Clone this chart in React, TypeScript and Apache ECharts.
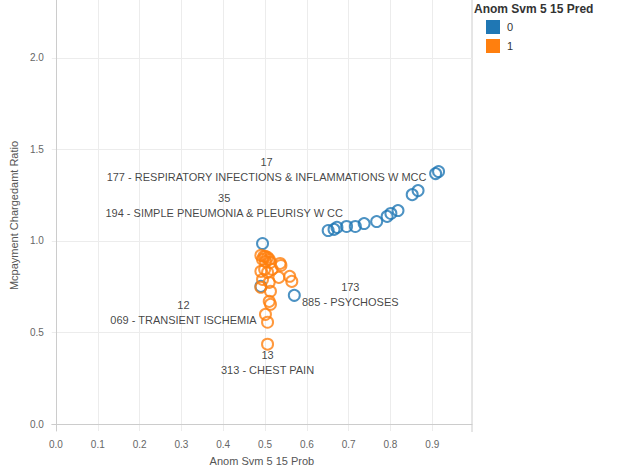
import { useRef, useEffect } from 'react';
import * as echarts from 'echarts';

const blueX = [0.915, 0.908, 0.866, 0.852, 0.818, 0.801, 0.792, 0.767, 0.737, 0.716, 0.695, 0.672, 0.665, 0.651, 0.494, 0.49, 0.57];
const blueY = [1.379, 1.368, 1.275, 1.253, 1.166, 1.15, 1.134, 1.106, 1.095, 1.079, 1.079, 1.074, 1.063, 1.057, 0.986, 0.752, 0.703];
const orangeX = [0.49, 0.497, 0.501, 0.506, 0.51, 0.494, 0.501, 0.513, 0.536, 0.538, 0.49, 0.499, 0.506, 0.517, 0.533, 0.559, 0.564, 0.494, 0.51, 0.49, 0.513, 0.51, 0.513, 0.501, 0.506, 0.506];
const orangeY = [0.921, 0.916, 0.916, 0.91, 0.899, 0.899, 0.888, 0.883, 0.877, 0.866, 0.834, 0.845, 0.828, 0.845, 0.801, 0.807, 0.779, 0.79, 0.774, 0.747, 0.725, 0.67, 0.654, 0.599, 0.556, 0.436];
const xTicks = [0, 0.1, 0.2, 0.3, 0.4, 0.5, 0.6, 0.7, 0.8, 0.9];
const yTicks = [0, 0.5, 1.0, 1.5, 2.0];

// annotations: [series, point index, count, drg, offset]
const notes: [string, number, string, string, number[]][] = [
  ['0', 0, '17', '177 - RESPIRATORY INFECTIONS & INFLAMMATIONS W MCC', [-172, -2]],
  ['0', 3, '35', '194 - SIMPLE PNEUMONIA & PLEURISY W CC', [-188, 11]],
  ['0', 16, '173', '885 - PSYCHOSES', [56, -1]],
  ['1', 23, '12', '069 - TRANSIENT ISCHEMIA', [-82, -2]],
  ['1', 25, '13', '313 - CHEST PAIN', [0, 18]],
];

const BLUE = '#1f77b4';
const ORANGE = '#ff7f0e';
const FONT = 'Liberation Sans, Arial, sans-serif';

function build(name: string, xs: number[], ys: number[]) {
  return xs.map((x, i) => {
    const n = notes.find((a) => a[0] === name && a[1] === i);
    const item: any = { value: [x, ys[i]] };
    if (n) {
      item.label = {
        show: true, position: 'inside', offset: n[4], align: 'center',
        formatter: n[2] + '\n' + n[3], color: '#111', fontSize: 11,
        fontFamily: FONT, lineHeight: 15,
      };
    }
    return item;
  });
}

export default function App() {
  const ref = useRef<HTMLDivElement>(null);
  useEffect(() => {
    if (!ref.current) return;
    const chart = echarts.init(ref.current, undefined, { renderer: 'svg' });
    const sym = (c: string) => ({
      type: 'scatter', symbol: 'circle', symbolSize: 11,
      itemStyle: { color: 'rgba(255,255,255,0)', borderColor: c, borderWidth: 2 },
    });
    chart.setOption({
      animation: false,
      textStyle: { fontFamily: FONT },
      grid: { left: 38, top: 0, width: 434, height: 432 },
      xAxis: {
        type: 'value', min: -0.01, max: 0.995,
        name: 'Anom Svm 5 15 Prob', nameLocation: 'middle', nameGap: 24,
        nameTextStyle: { color: '#555', fontSize: 11 },
        axisLabel: { color: '#666', fontSize: 10, customValues: xTicks, formatter: (v: number) => v.toFixed(1) },
        axisLine: { lineStyle: { color: '#ccc' } },
        axisTick: { show: false, customValues: xTicks },
        splitLine: { lineStyle: { color: '#ececec' } },
      },
      yAxis: {
        type: 'value', min: -0.038, max: 2.316,
        name: 'Mcpayment Chargedamt Ratio', nameLocation: 'middle', nameGap: 24,
        nameTextStyle: { color: '#555', fontSize: 11 },
        axisLabel: { color: '#666', fontSize: 10, customValues: yTicks, formatter: (v: number) => v.toFixed(1) },
        axisLine: { show: true, lineStyle: { color: '#ccc' } },
        axisTick: { show: false, customValues: yTicks },
        splitLine: { lineStyle: { color: '#ececec' } },
      },
      graphic: [
        { type: 'line', shape: { x1: 472, y1: 0, x2: 472, y2: 432 }, style: { stroke: '#ccc' } },
        { type: 'text', left: 474, top: 3, style: { text: 'Anom Svm 5 15 Pred', font: 'bold 12px ' + FONT, fill: '#333' } },
        { type: 'rect', shape: { x: 486, y: 20, width: 14, height: 14 }, style: { fill: BLUE } },
        { type: 'text', left: 507, top: 21, style: { text: '0', font: '11px ' + FONT, fill: '#333' } },
        { type: 'rect', shape: { x: 486, y: 39, width: 14, height: 14 }, style: { fill: ORANGE } },
        { type: 'text', left: 507, top: 40, style: { text: '1', font: '11px ' + FONT, fill: '#333' } },
      ],
      series: [
        { ...sym(BLUE), name: '0', data: build('0', blueX, blueY) },
        { ...sym(ORANGE), name: '1', data: build('1', orangeX, orangeY) },
      ],
    });
    return () => chart.dispose();
  }, []);
  return <div ref={ref} style={{ position: 'absolute', left: 0, top: 0, width: 623, height: 471, background: '#fff' }} />;
}
